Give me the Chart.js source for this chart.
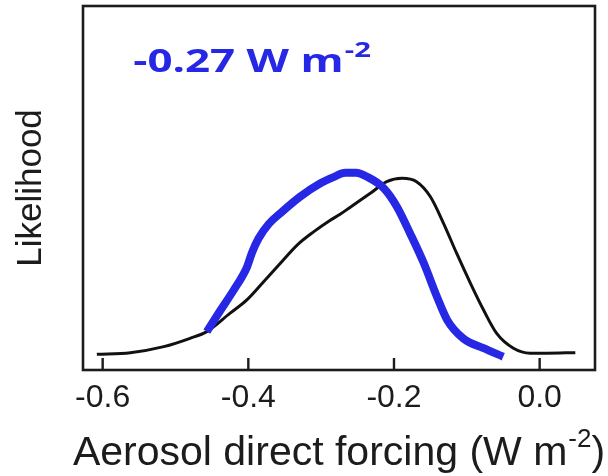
<!DOCTYPE html>
<html>
<head>
<meta charset="utf-8">
<script src="https://cdn.jsdelivr.net/npm/chart.js@4/dist/chart.umd.min.js"></script>
<style>
  html, body { margin: 0; padding: 0; background: #ffffff; }
  #wrap { width: 608px; height: 476px; }
</style>
</head>
<body>
<div id="wrap"><canvas id="c" width="608" height="476"></canvas></div>
<script>
// ---- data ----
const xTickValues = [-0.6, -0.4, -0.2, 0.0];
const xTitleMain = 'Aerosol direct forcing (W m';
const xTitleSup = '-2';
const xTitleEnd = ')';
const yTitle = 'Likelihood';
const annotationMain = '-0.27 W m';
const annotationSup = '-2';
const annotationAt = [-0.558, 1.60];   // data position of the label (x, y)

const blackX = [-0.608, -0.562, -0.516, -0.480, -0.457, -0.425, -0.402, -0.379, -0.356, -0.333,
                -0.310, -0.288, -0.274, -0.260, -0.233, -0.210, -0.189, -0.169, -0.150, -0.132,
                -0.114, -0.095, -0.077, -0.059, -0.036, -0.013, 0.010, 0.049];
const blackY = [0.004, 0.013, 0.047, 0.094, 0.132, 0.236, 0.311, 0.414, 0.518, 0.621,
                0.697, 0.760, 0.795, 0.835, 0.912, 0.979, 0.998, 0.979, 0.894, 0.744,
                0.575, 0.405, 0.254, 0.122, 0.038, 0.010, 0.010, 0.013];

const blueX = [-0.457, -0.438, -0.420, -0.402, -0.395, -0.386, -0.372, -0.356, -0.329, -0.301,
               -0.283, -0.267, -0.252, -0.237, -0.214, -0.196, -0.178, -0.159, -0.141, -0.127,
               -0.105, -0.077, -0.050];
const blueY = [0.132, 0.254, 0.367, 0.495, 0.578, 0.658, 0.740, 0.801, 0.894, 0.970,
               1.005, 1.030, 1.030, 1.007, 0.942, 0.838, 0.688, 0.518, 0.329, 0.198,
               0.094, 0.038, -0.010];

// ---- styling ----
const INK = '#1c1c1c';
const BLUE = '#2727e6';
const SANS = '"Liberation Sans", Arial, sans-serif';

function pts(xs, ys) { return xs.map((x, i) => ({ x: x, y: ys[i] })); }

const decor = {
  id: 'decor',
  afterDatasetsDraw(chart) {
    const ctx = chart.ctx;
    const a = chart.chartArea;
    const xs = chart.scales.x, ys = chart.scales.y;
    ctx.save();
    // frame
    ctx.strokeStyle = INK;
    ctx.lineWidth = 2.6;
    ctx.strokeRect(a.left, a.top, a.right - a.left, a.bottom - a.top);
    // inward tick marks
    ctx.lineWidth = 2.4;
    xs.ticks.forEach(t => {
      const px = xs.getPixelForValue(t.value);
      ctx.beginPath();
      ctx.moveTo(px, a.bottom);
      ctx.lineTo(px, a.bottom - 12);
      ctx.stroke();
    });
    // annotation
    const ax = xs.getPixelForValue(annotationAt[0]);
    const ay = ys.getPixelForValue(annotationAt[1]);
    ctx.fillStyle = BLUE;
    ctx.textBaseline = 'alphabetic';
    ctx.textAlign = 'left';
    ctx.translate(ax, ay);
    ctx.scale(1.33, 1);
    ctx.font = 'bold 33px "Open Sans", sans-serif';
    ctx.fillText(annotationMain, 0, 0);
    const w1 = ctx.measureText(annotationMain).width;
    ctx.font = 'bold 22px "Open Sans", sans-serif';
    ctx.fillText(annotationSup, w1 + 1, -15);
    ctx.restore();

    // x axis title with superscript
    ctx.save();
    ctx.fillStyle = INK;
    ctx.textBaseline = 'alphabetic';
    ctx.textAlign = 'left';
    const big = '41px ' + SANS, small = '26px ' + SANS;
    ctx.font = big;
    const wm = ctx.measureText(xTitleMain).width;
    const we = ctx.measureText(xTitleEnd).width;
    ctx.font = small;
    const ws = ctx.measureText(xTitleSup).width;
    const total = wm + ws + we + 1;
    const cx = (a.left + a.right) / 2;
    const base = a.bottom + 95;
    let x0 = cx - total / 2;
    ctx.font = big;
    ctx.fillText(xTitleMain, x0, base);
    ctx.font = small;
    ctx.fillText(xTitleSup, x0 + wm + 1, base - 18);
    ctx.font = big;
    ctx.fillText(xTitleEnd, x0 + wm + ws + 1, base);
    ctx.restore();
  }
};

new Chart(document.getElementById('c'), {
  type: 'line',
  data: {
    datasets: [
      {
        label: 'blue',
        data: pts(blueX, blueY),
        borderColor: BLUE,
        borderWidth: 8,
        borderCapStyle: 'butt',
        pointRadius: 0,
        cubicInterpolationMode: 'monotone',
        fill: false
      },
      {
        label: 'black',
        data: pts(blackX, blackY),
        borderColor: '#111111',
        borderWidth: 3,
        pointRadius: 0,
        cubicInterpolationMode: 'monotone',
        fill: false
      }
    ]
  },
  options: {
    responsive: false,
    animation: false,
    devicePixelRatio: 1,
    layout: { padding: { top: 6, right: 13, left: 0, bottom: 0 } },
    plugins: { legend: { display: false }, tooltip: { enabled: false }, title: { display: false } },
    scales: {
      x: {
        type: 'linear',
        min: -0.627,
        max: 0.076,
        grid: { display: false, drawTicks: false },
        border: { display: false },
        afterBuildTicks: (s) => { s.ticks = xTickValues.map(v => ({ value: v })); },
        ticks: {
          padding: 9,
          color: INK,
          font: { family: SANS, size: 32 },
          callback: (v) => Number(v).toFixed(1)
        },
        afterFit: (s) => { s.height = 106; }
      },
      y: {
        type: 'linear',
        min: -0.085,
        max: 1.972,
        grid: { display: false, drawTicks: false },
        border: { display: false },
        ticks: { display: false },
        title: {
          display: true,
          text: yTitle,
          color: INK,
          font: { family: SANS, size: 35 },
          padding: { top: 10, bottom: 0 }
        },
        afterFit: (s) => { s.width = 83; }
      }
    }
  },
  plugins: [decor]
});
</script>
</body>
</html>
